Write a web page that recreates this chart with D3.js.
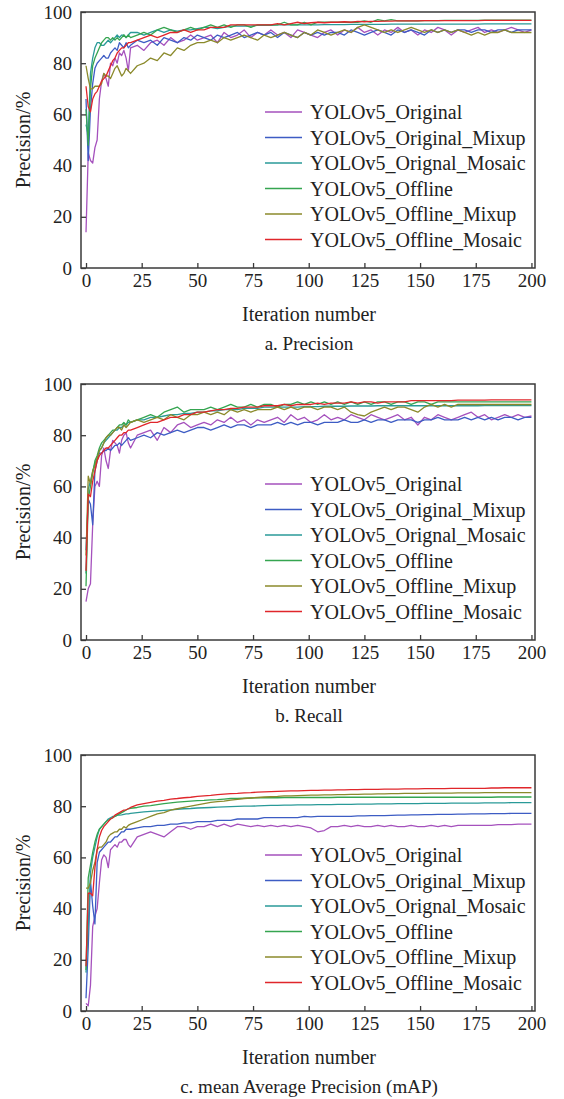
<!DOCTYPE html>
<html><head><meta charset="utf-8">
<script src="https://cdn.jsdelivr.net/npm/d3@7"></script>
<style>
html,body{margin:0;padding:0;background:#fff;}
svg{display:block;}
text{font-family:"Liberation Serif","Times New Roman",serif;fill:#222;}
</style></head>
<body>
<script>
const epochs = [0,1,2,3,4,5,6,7,8,9,10,11,12,13,14,15,16,17,18,19,20,
23,26,29,32,35,38,41,44,47,50,53,56,59,62,65,68,71,74,77,80,83,86,89,92,95,98,101,104,107,110,
113,116,119,122,125,128,131,134,137,140,143,146,149,152,155,158,161,164,167,170,173,176,179,182,185,188,191,194,197,200];

const seriesNames = ["YOLOv5_Original","YOLOv5_Original_Mixup","YOLOv5_Orignal_Mosaic","YOLOv5_Offline","YOLOv5_Offline_Mixup","YOLOv5_Offline_Mosaic"];
const seriesColors = ["#a551bd","#3d5cc4","#2a9a98","#35a550","#8b8a2b","#e0262b"];
const xTicks = [0,25,50,75,100,125,150,175,200];
const yTicks = [0,20,40,60,80,100];
const captions = ["a. Precision","b. Recall","c. mean Average Precision (mAP)"];
const yLabel = "Precision/%";
const xLabel = "Iteration number";

// Panel a: Precision
const precOriginal = [14,45,42,41,47,50,66,73,76,74,71,80,79,82,80,84,83,85,82,77,86,
87,85,88,89,87,90,88,89,91,89, 90,91,88,92,90,91,93,90,92,91, 93,91,92,90,93,92,91,90,92,93,
91,93,92,94,92,93,91,93,92,94, 92,93,91,93,92,94,93,91,93,92, 93,94,92,93,92,93,94,93,92,93];
const precOriginalMixup = [66,42,62,72,78,80,81,82,83,82,82,84,85,86,85,88,87,86,88,86,87,
89,88,89,87,90,89,88,90,89,91, 90,89,91,90,91,92,90,91,92,91, 92,90,92,91,90,92,91,92,91,92,
92,91,93,92,91,92,93,92,91,93, 92,93,92,91,93,92,93,92,93,93, 92,93,93,92,93,93,92,93,93,93];
const precOriginalMosaic = [56,52,76,82,86,88,88,87,87,88,89,88,89,90,91,90,91,91,90,91,92,
92,91,92,93,92,93,92.5,93,93,93.5, 94,94,93.5,94,94.5,94.5,94.5,94.5,94.8,94.8, 94.8,95,95,95,95,95,95,95,95.1,95.1,
95.1,95.1,95.2,95.2,95.2,95.2,95.2,95.2,95.3,95.3, 95.3,95.3,95.3,95.3,95.3,95.3,95.3,95.3,95.3,95.3, 95.3,95.3,95.4,95.4,95.4,95.4,95.4,95.4,95.4,95.4];
const precOffline = [62,48,70,79,82,84,86,88,89,90,90,89,90,89,90,89,90,91,90,91,90,
91,92,91,93,94,93,92,93,94,93, 94,95,94,95,94,95,95,94,95,95, 95,95,96,95,95,96,95,96,96,96,
96,96,96,96,96.5,96,97,96.5,97,96.5, 96.5,96.5,96.5,96.6,96.6,96.6,96.7,96.7,96.7,96.7, 96.7,96.7,96.8,96.8,96.8,96.8,96.8,96.8,96.8,96.8];
const precOfflineMixup = [79,74,70,70,71,71,71,72,76,75,75,74,76,78,79,77,75,76,78,77,76,
79,80,82,81,84,83,86,85,87,88, 88,89,88,90,89,90,91,90,89,91, 90,91,92,91,90,92,91,93,92,91,
92,93,92,94,95,94,93,92,93,92, 93,94,93,92,93,92,93,92,93,92, 91,92,91,92,92,93,92,92,92,92];
const precOfflineMosaic = [71,63,61,66,68,69,71,73,74,75,77,79,81,82,84,85,86,86,87,88,88,
89,90,91,90,91,92,92,93,92,93, 93,94,94,94,95,95,95,95,95,95, 95,95.5,95,95.5,96,95.5,95.8,96,95.8,96,
96,96.2,96,96.3,96.2,96.3,96.3,96.4,96.4,96.5, 96.5,96.5,96.5,96.6,96.6,96.6,96.6,96.6,96.6,96.6, 96.6,96.6,96.7,96.7,96.7,96.7,96.7,96.7,96.7,96.7];

// Panel b: Recall
const recOriginal = [15,20,22,45,60,62,60,72,75,70,67,74,78,77,76,73,78,80,81,77,75,
80,81,82,78,83,81,84,85,83,84, 85,84,86,85,87,85,86,84,86,85, 86,87,85,88,86,87,85,86,88,86,
87,86,88,87,86,88,87,86,87,88, 86,87,84,87,86,88,87,86,87,88, 89,87,88,86,87,88,87,88,87,87.5];
const recOriginalMixup = [35,55,53,45,66,70,73,73,74,74,75,74,75,76,76,77,76,77,78,79,78,
79,80,79,81,80,81,82,81,82,83, 83,82,83,84,83,84,84,83,84,84, 84,85,84,85,84,85,85,84,85,85,
85,86,85,85,86,85,86,86,85,86, 86,86,85,86,86,87,86,86,86,87, 86,87,86,87,86,87,87,86,87,87];
const recOriginalMosaic = [26,59,62,66,69,71,74,75,77,78,79,80,81,82,82,83,83,84,84,85,85,
86,86,87,87,87.5,88,88,88.5,88.5,89, 89,89.5,89.5,90,90,90,90.5,90.5,90.5,91, 91,91,91,91,91,91.2,91.2,91.2,91.3,91.3,
91.3,91.3,91.4,91.4,91.4,91.4,91.5,91.5,91.5,91.5, 91.5,91.5,91.5,91.5,91.5,91.5,91.5,91.5,91.5,91.5, 91.5,91.5,91.6,91.6,91.6,91.6,91.6,91.6,91.6,91.6];
const recOffline = [21,55,60,65,70,72,75,77,78,79,80,81,82,82,83,84,84,85,84,86,85,
86,87,88,87,89,90,91,89,90,90, 90,91,90,91,92,91,91,92,91,92, 92,91,92,92,93,92,93,92,93,92,
93,92,93,92,93,92,93,93,92,93, 93,92,93,93,92,93,93,93,93,93, 93,93,93,93,93,93,93,93,93,93];
const recOfflineMixup = [33,64,61,66,68,71,74,75,77,79,80,80,81,82,83,83,82,84,83,84,85,
86,85,86,87,86,88,87,86,88,88, 89,88,89,88,90,89,90,89,90,90, 90,91,90,91,90,91,91,90,91,91,
90,91,89,88,87.5,89,90,91,90,91, 91,90,89,91,92,91,92,91,92,92, 92,92,92,92,92,92,92,92,92,92];
const recOfflineMosaic = [27,57,56,62,66,70,72,73,74,75,75,76,77,78,79,80,80,81,81,82,82,
83,84,85,85,86,87,87,88,88,89, 89,89.5,90,90,90.5,90.5,91,91,91,91.5, 91.5,91.5,92,91.5,92,92,92,92.5,92,92.5,
92.5,92.5,93,92.5,93,93,92.5,93,93,93, 93,93.5,93.5,93.5,93.5,93.5,93.5,93.5,93.7,93.7, 93.7,93.7,93.7,93.8,93.8,93.8,93.8,93.8,93.8,93.8];

// Panel c: mAP
const mapOriginal = [3,2,10,33,37,40,50,59,61,60,56,63,64,65,64,66,66,67,67,65,64,
68,69,70,69,68,70,72,72,71,72, 72,73,72,73,72,73,72.5,72,72.5,72, 72.5,72,72.5,72,72.5,72,71.5,70,70.5,72,
72,72.5,72,72.5,72,72,72.5,72,72.5,72, 72,72.5,72,72,72.5,72,72.5,72,72.5,72.5, 72.5,72.5,72.5,72.5,72.8,72.8,72.8,73,73,73];
const mapOriginalMixup = [5,25,51,41,34,58,62,63,64,65,66,66,67,68,68,69,70,70,71,71,71,
71.5,72,72,72.5,72.5,73,73,73.5,73.5,74, 74,74,74.5,74.5,74.5,75,75,75,75,75.5, 75.5,75.5,75.5,75.5,75.5,76,75.8,76,76,76,
76,76,76,76.2,76.2,76.3,76.3,76.3,76.4,76.5, 76.5,76.6,76.6,76.7,76.7,76.8,76.8,76.8,76.9,76.9, 77,77,77,77.1,77.1,77.1,77.2,77.2,77.2,77.2];
const mapOriginalMosaic = [15,33,54,60,64,68,71,72,73,74,75,75.5,76,76,76.5,76.5,76.6,76.8,77,77,77.2,
77.5,77.8,78,78.2,78.4,78.6,78.8,79,79.1,79.3, 79.4,79.5,79.6,79.7,79.8,79.9,80,80,80.1,80.2, 80.3,80.3,80.4,80.4,80.5,80.5,80.5,80.6,80.6,80.6,
80.7,80.7,80.7,80.8,80.8,80.8,80.9,80.9,80.9,81, 81,81,81,81.1,81.1,81.1,81.1,81.2,81.2,81.2, 81.2,81.2,81.3,81.3,81.3,81.3,81.4,81.4,81.4,81.4];
const mapOffline = [16,52,57,62,66,69,71,72,73,74,74.5,75,75.5,76,76.5,77,77.5,78,78.5,79,79.2,
79.5,80,80.2,80.6,81,81.3,81.6,81.8,82,82.2, 82.3,82.5,82.6,82.8,83,83,83.1,83.2,83.3,83.3, 83.3,83.3,83.4,83.4,83.4,83.4,83.4,83.4,83.4,83.4,
83.5,83.5,83.5,83.5,83.5,83.5,83.5,83.5,83.5,83.5, 83.5,83.5,83.5,83.5,83.5,83.5,83.5,83.5,83.5,83.5, 83.5,83.5,83.5,83.5,83.6,83.6,83.6,83.6,83.6,83.6];
const mapOfflineMixup = [48,48,50,55,58,63,64,64,65,66,68,69,69.5,70,70,71,71,72,71.5,72.5,73,
74,75,76,77,77.5,78.5,79,79.5,80,80.5, 81,81.5,81.8,82,82.4,82.7,83,83.2,83.4,83.6, 83.7,83.8,84,84,84.1,84.2,84.3,84.3,84.4,84.4,
84.5,84.5,84.6,84.6,84.7,84.7,84.8,84.8,84.9,84.9, 85,85,85,85,85.1,85.1,85.1,85.1,85.2,85.2, 85.2,85.2,85.3,85.3,85.3,85.3,85.3,85.3,85.3,85.3];
const mapOfflineMosaic = [17.5,46,46,45,56,63,68,70.5,72,73,74,75,75.5,76.5,77,77.5,78,78.5,78.6,79,79.5,
80.5,81,81.5,82,82.3,82.8,83,83.3,83.5,83.8, 84,84.2,84.5,84.7,84.9,85,85.2,85.3,85.5,85.6, 85.7,85.8,85.9,86,86,86.1,86.2,86.2,86.3,86.3,
86.4,86.4,86.5,86.5,86.6,86.6,86.6,86.7,86.7,86.7, 86.8,86.8,86.8,86.9,86.9,86.9,86.9,87,87,87, 87,87,87,87.1,87.1,87.2,87.2,87.2,87.2,87.2];

const panels = [
  {caption:captions[0], series:[precOriginal,precOriginalMixup,precOriginalMosaic,precOffline,precOfflineMixup,precOfflineMosaic]},
  {caption:captions[1], series:[recOriginal,recOriginalMixup,recOriginalMosaic,recOffline,recOfflineMixup,recOfflineMosaic]},
  {caption:captions[2], series:[mapOriginal,mapOriginalMixup,mapOriginalMosaic,mapOffline,mapOfflineMixup,mapOfflineMosaic]}
];

const W = 564, H = 1099;
const svg = d3.select("body").append("svg").attr("width",W).attr("height",H);

const left = 81, right = 535, plotH = 256;
const tops = [12, 384, 755];
const x = d3.scaleLinear().domain([-2.25, 201.6]).range([left, right]);
const frameColor = "#3a3a3a";

panels.forEach((p, pi) => {
  const top = tops[pi], bottom = top + plotH;
  const y = d3.scaleLinear().domain([0,100]).range([bottom, top]);
  const g = svg.append("g");

  const line = d3.line().x((d,i)=>x(epochs[i])).y(d=>y(d));
  p.series.forEach((vals, si) => {
    g.append("path").datum(vals)
      .attr("d", line)
      .attr("fill","none")
      .attr("stroke", seriesColors[si])
      .attr("stroke-width", 1.3)
      .attr("stroke-linejoin","round");
  });

  // frame
  g.append("rect").attr("x",left).attr("y",top).attr("width",right-left).attr("height",plotH)
    .attr("fill","none").attr("stroke",frameColor).attr("stroke-width",1.5);

  // x axis (ticks inward)
  const xAxis = d3.axisBottom(x).tickValues(xTicks).tickSizeInner(-5).tickSizeOuter(0).tickPadding(6);
  const xa = g.append("g").attr("transform",`translate(0,${bottom})`).call(xAxis);
  xa.select(".domain").remove();
  xa.selectAll("line").attr("stroke",frameColor).attr("stroke-width",1.3);
  xa.selectAll("text").attr("font-size",19).attr("font-family",'"Liberation Serif",serif').attr("fill","#222");

  // y axis (ticks inward)
  const yAxis = d3.axisLeft(y).tickValues(yTicks).tickSizeInner(-5).tickSizeOuter(0).tickPadding(9);
  const ya = g.append("g").attr("transform",`translate(${left},0)`).call(yAxis);
  ya.select(".domain").remove();
  ya.selectAll("line").attr("stroke",frameColor).attr("stroke-width",1.3);
  ya.selectAll("text").attr("font-size",19).attr("font-family",'"Liberation Serif",serif').attr("fill","#222");

  // y label
  g.append("text").attr("transform",`translate(23,${(top+bottom)/2}) rotate(-90)`)
    .attr("text-anchor","middle").attr("dominant-baseline","central")
    .attr("font-size",20).text(yLabel);

  // x label
  g.append("text").attr("x",(left+right)/2 + 1).attr("y",bottom+53)
    .attr("text-anchor","middle").attr("font-size",20).text(xLabel);

  // caption
  g.append("text").attr("x",(left+right)/2 + 1).attr("y",bottom+82)
    .attr("text-anchor","middle").attr("font-size",19).text(p.caption);

  // legend
  seriesNames.forEach((name, si) => {
    const ly = top + 100 + si*25.5;
    g.append("line").attr("x1",265).attr("x2",302).attr("y1",ly).attr("y2",ly)
      .attr("stroke",seriesColors[si]).attr("stroke-width",1.5);
    g.append("text").attr("x",310).attr("y",ly).attr("dominant-baseline","central")
      .attr("font-size",20).text(name);
  });
});
</script>
</body></html>
